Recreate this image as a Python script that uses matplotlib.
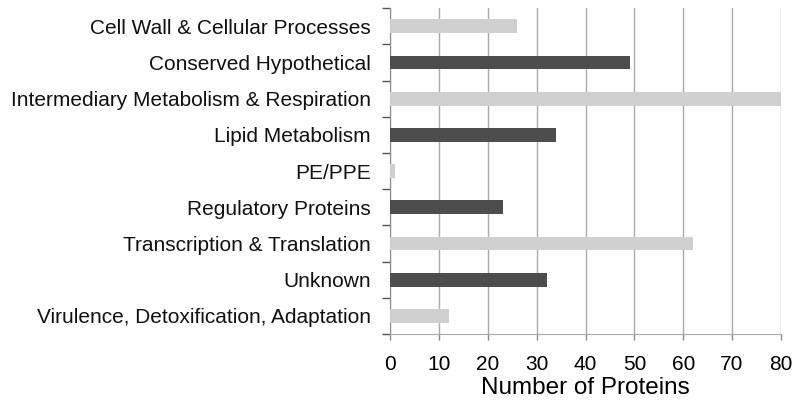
import matplotlib
matplotlib.use('Agg')
import matplotlib.pyplot as plt
import numpy as np

categories = [
    'Cell Wall & Cellular Processes',
    'Conserved Hypothetical',
    'Intermediary Metabolism & Respiration',
    'Lipid Metabolism',
    'PE/PPE',
    'Regulatory Proteins',
    'Transcription & Translation',
    'Unknown',
    'Virulence, Detoxification, Adaptation',
]
counts = [26, 49, 82, 34, 1, 23, 62, 32, 12]
shades = ['#d0d0d0', '#4d4d4d'] * 5
xticks = [0, 10, 20, 30, 40, 50, 60, 70, 80]

plt.rcParams['font.family'] = ['Liberation Sans', 'DejaVu Sans']

fig = plt.figure(figsize=(8, 4.04), dpi=100)
ax = fig.add_axes([0.488, 0.173, 0.488, 0.807])

y = np.arange(len(categories))
ax.barh(y, counts, height=0.38, color=shades[:len(categories)], zorder=3)

ax.set_xlim(0, 80)
ax.set_ylim(len(categories) - 0.5, -0.5)
ax.set_xticks(xticks)
ax.set_xticklabels([str(t) for t in xticks], fontsize=15)
ax.set_yticks(y)
ax.set_yticklabels(categories, fontsize=15, color='#111111')
ax.set_yticks(np.arange(-0.5, len(categories)), minor=True)
ax.tick_params(axis='y', which='major', length=0, pad=14)
ax.tick_params(axis='y', which='minor', length=6, color='#555555', width=1)
ax.tick_params(axis='x', length=4, color='#888888', width=1, pad=11)

ax.grid(axis='x', color='#aaaaaa', linewidth=1, zorder=0)
for s in ['top', 'right']:
    ax.spines[s].set_visible(False)
ax.spines['left'].set_color('#888888')
ax.spines['bottom'].set_color('#aaaaaa')

ax.set_xlabel('Number of Proteins', fontsize=17.5, labelpad=2)

fig.savefig('out.png', dpi=100)
